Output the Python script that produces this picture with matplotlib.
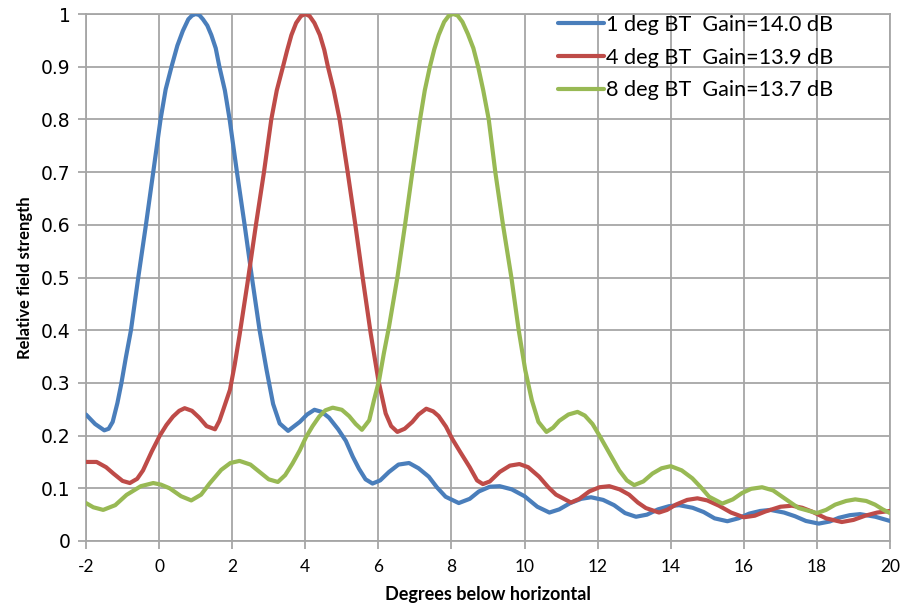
import matplotlib
matplotlib.use("Agg")
import matplotlib.pyplot as plt

# ---------------- data ----------------
labels = ["1 deg BT  Gain=14.0 dB", "4 deg BT  Gain=13.9 dB", "8 deg BT  Gain=13.7 dB"]

x_1deg = [-2, -1.75, -1.5, -1.38, -1.27, -1.14, -1.03, -0.91, -0.77, -0.57, -0.36, -0.16, 0.04, 0.18,
          0.34, 0.5, 0.65, 0.8, 0.9, 1.0, 1.1, 1.2, 1.32, 1.43, 1.55, 1.65, 1.8, 1.93, 2.13, 2.34,
          2.54, 2.75, 2.94, 3.12, 3.3, 3.53, 3.85, 4.05, 4.25, 4.45, 4.65, 4.9, 5.11, 5.3, 5.47,
          5.65, 5.84, 6.05, 6.29, 6.55, 6.84, 7.1, 7.38, 7.6, 7.84, 8.2, 8.5, 8.75, 9.05, 9.32,
          9.65, 10.0, 10.35, 10.68, 10.95, 11.25, 11.55, 11.82, 12.15, 12.45, 12.75, 13.05, 13.35,
          13.65, 13.95, 14.23, 14.6, 14.9, 15.2, 15.55, 15.85, 16.15, 16.45, 16.73, 17.1, 17.4,
          17.7, 18.05, 18.35, 18.6, 18.9, 19.18, 19.6, 20]
y_1deg = [0.24, 0.222, 0.21, 0.213, 0.226, 0.262, 0.30, 0.348, 0.40, 0.50, 0.60, 0.70, 0.80, 0.857,
          0.90, 0.94, 0.968, 0.99, 0.997, 1.0, 0.998, 0.99, 0.978, 0.96, 0.935, 0.90, 0.855, 0.80,
          0.70, 0.60, 0.50, 0.40, 0.325, 0.26, 0.223, 0.209, 0.226, 0.24, 0.249, 0.245, 0.234,
          0.212, 0.19, 0.16, 0.137, 0.117, 0.109, 0.115, 0.131, 0.145, 0.148, 0.138, 0.122, 0.102,
          0.084, 0.072, 0.08, 0.094, 0.103, 0.104, 0.098, 0.085, 0.065, 0.054, 0.06, 0.072, 0.08,
          0.083, 0.078, 0.068, 0.053, 0.046, 0.05, 0.06, 0.066, 0.068, 0.063, 0.055, 0.043, 0.0375,
          0.043, 0.052, 0.057, 0.059, 0.054, 0.047, 0.038, 0.033, 0.037, 0.044, 0.049, 0.051, 0.046,
          0.038]

x_4deg = [-2, -1.71, -1.45, -1.25, -1.0, -0.8, -0.6, -0.44, -0.2, 0.02, 0.2, 0.38, 0.55, 0.7, 0.9,
          1.1, 1.3, 1.53, 1.65, 1.75, 1.94, 2.07, 2.2, 2.42, 2.65, 2.87, 3.07, 3.22, 3.39, 3.5,
          3.62, 3.75, 3.88, 4.0, 4.12, 4.25, 4.4, 4.52, 4.62, 4.78, 4.94, 5.16, 5.37, 5.57, 5.79,
          6.0, 6.2, 6.35, 6.52, 6.72, 6.93, 7.1, 7.31, 7.5, 7.65, 7.85, 8.02, 8.23, 8.5, 8.7, 8.86,
          9.05, 9.32, 9.6, 9.86, 10.1, 10.4, 10.65, 10.86, 11.27, 11.5, 11.77, 12.05, 12.32, 12.6,
          12.86, 13.1, 13.32, 13.68, 13.9, 14.14, 14.45, 14.73, 15.0, 15.32, 15.65, 16.0, 16.3,
          16.59, 17.0, 17.32, 17.6, 17.86, 18.25, 18.68, 19.0, 19.32, 19.65, 20]
y_4deg = [0.15, 0.15, 0.14, 0.128, 0.114, 0.11, 0.118, 0.134, 0.17, 0.2, 0.22, 0.236, 0.247, 0.252,
          0.247, 0.234, 0.218, 0.212, 0.228, 0.248, 0.287, 0.335, 0.39, 0.49, 0.60, 0.70, 0.80, 0.855,
          0.90, 0.93, 0.96, 0.983, 0.996, 1.0, 0.996, 0.983, 0.96, 0.932, 0.90, 0.855, 0.80, 0.70,
          0.60, 0.50, 0.394, 0.305, 0.242, 0.218, 0.207, 0.213, 0.226, 0.24, 0.251, 0.246, 0.237,
          0.217, 0.194, 0.17, 0.14, 0.115, 0.108, 0.113, 0.131, 0.143, 0.146, 0.14, 0.122, 0.102,
          0.088, 0.073, 0.08, 0.094, 0.102, 0.104, 0.098, 0.088, 0.073, 0.0625, 0.054, 0.059, 0.069,
          0.078, 0.081, 0.077, 0.067, 0.054, 0.045, 0.048, 0.056, 0.065, 0.067, 0.063, 0.056, 0.043,
          0.036, 0.04, 0.048, 0.054, 0.057]

x_8deg = [-2, -1.8, -1.53, -1.2, -0.89, -0.5, -0.16, 0.05, 0.29, 0.6, 0.88, 1.15, 1.38, 1.7, 1.95,
          2.2, 2.5, 2.75, 3.0, 3.25, 3.45, 3.65, 3.85, 4.02, 4.2, 4.38, 4.55, 4.75, 5.0, 5.2, 5.38,
          5.55, 5.75, 5.88, 6.02, 6.15, 6.29, 6.52, 6.73, 6.93, 7.14, 7.27, 7.41, 7.53, 7.65, 7.8,
          7.93, 8.05, 8.17, 8.3, 8.45, 8.6, 8.73, 8.87, 9.02, 9.2, 9.41, 9.64, 9.84, 10.02, 10.2,
          10.38, 10.6, 10.78, 10.95, 11.2, 11.45, 11.65, 11.86, 12.05, 12.23, 12.59, 12.8, 13.0,
          13.25, 13.5, 13.75, 14.0, 14.3, 14.59, 14.85, 15.05, 15.41, 15.7, 15.95, 16.2, 16.5,
          16.8, 17.05, 17.3, 17.5, 18.0, 18.25, 18.5, 18.8, 19.05, 19.35, 19.59, 19.8, 20]
y_8deg = [0.072, 0.064, 0.059, 0.068, 0.0875, 0.104, 0.11, 0.107, 0.1, 0.085, 0.077, 0.088, 0.109,
          0.135, 0.148, 0.152, 0.145, 0.131, 0.117, 0.112, 0.125, 0.147, 0.172, 0.197, 0.218, 0.236,
          0.248, 0.253, 0.249, 0.237, 0.222, 0.211, 0.229, 0.267, 0.305, 0.356, 0.406, 0.50, 0.60,
          0.70, 0.80, 0.855, 0.90, 0.933, 0.96, 0.985, 0.997, 1.0, 0.997, 0.985, 0.962, 0.935, 0.90,
          0.855, 0.80, 0.70, 0.60, 0.50, 0.40, 0.324, 0.267, 0.226, 0.207, 0.215, 0.228, 0.24,
          0.245, 0.238, 0.222, 0.2, 0.178, 0.134, 0.115, 0.106, 0.113, 0.128, 0.138, 0.142, 0.134,
          0.119, 0.1, 0.084, 0.071, 0.079, 0.091, 0.099, 0.102, 0.096, 0.084, 0.072, 0.0625, 0.053,
          0.059, 0.069, 0.076, 0.079, 0.076, 0.069, 0.06, 0.053]

x_ticks = [-2, 0, 2, 4, 6, 8, 10, 12, 14, 16, 18, 20]
y_ticks = [0, 0.1, 0.2, 0.3, 0.4, 0.5, 0.6, 0.7, 0.8, 0.9, 1]
y_ticklabels = ["0", "0.1", "0.2", "0.3", "0.4", "0.5", "0.6", "0.7", "0.8", "0.9", "1"]

colors = ["#4A7EBB", "#BE4B48", "#98B954"]

# ---------------- figure ----------------
fig = plt.figure(figsize=(9.13, 6.05), dpi=100)
ax = fig.add_axes([86 / 913, 1 - 541 / 605, (890 - 86) / 913, (541 - 14) / 605])

grid_c = "#A6A6A6"
for xs, ys, c, lab in zip([x_1deg, x_4deg, x_8deg], [y_1deg, y_4deg, y_8deg], colors, labels):
    ax.plot(xs, ys, color=c, lw=3.0, label=lab, solid_joinstyle="round",
            solid_capstyle="round", zorder=3)

label_font = ["Lato", "DejaVu Sans"]
ax.set_xlim(-2, 20)
ax.set_ylim(0, 1)
ax.set_xticks(x_ticks)
ax.set_xticklabels([str(t) for t in x_ticks], fontsize=12.5, family=label_font)
ax.set_yticks(y_ticks)
ax.set_yticklabels(y_ticklabels, fontsize=13.5, family=["DejaVu Sans"])
ax.grid(True, color=grid_c, lw=1.3)
ax.set_axisbelow(True)
for s in ax.spines.values():
    s.set_color(grid_c)
    s.set_linewidth(1.3)
ax.tick_params(axis="both", colors=grid_c, length=6, width=1.3, labelcolor="black")
ax.tick_params(axis="x", pad=7)
ax.tick_params(axis="y", pad=5)

ax.set_xlabel("Degrees below horizontal", fontsize=13, fontweight="bold",
              family=label_font, labelpad=8)
ax.set_ylabel("Relative field strength", fontsize=12, fontweight="bold",
              family=label_font, labelpad=6)

leg = ax.legend(loc="upper left", bbox_to_anchor=(558 / 913, 1 - 15 / 605),
                bbox_transform=fig.transFigure, frameon=False, handlelength=2.1,
                handletextpad=0.1, labelspacing=0.58, borderpad=0, borderaxespad=0,
                prop={"family": ["Lato", "DejaVu Sans"], "size": 15.6})

fig.savefig("out.png", dpi=100)
